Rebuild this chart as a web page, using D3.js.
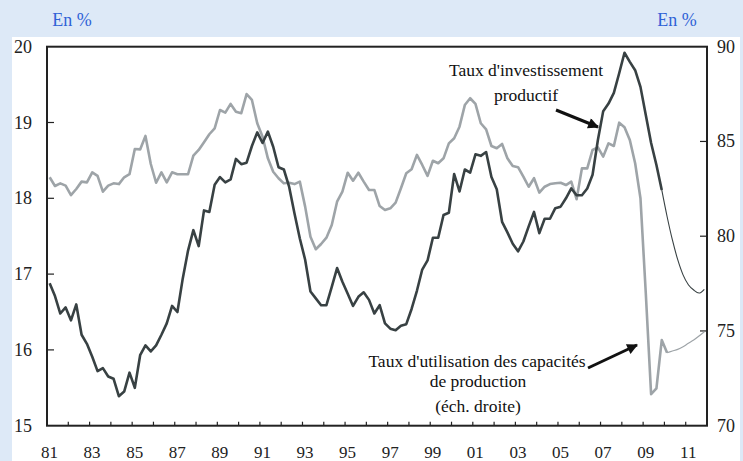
<!DOCTYPE html>
<html>
<head>
<meta charset="utf-8">
<script src="https://cdn.jsdelivr.net/npm/d3@7"></script>
<style>
  body { margin: 0; background: #dde9f7; }
</style>
</head>
<body>
<div id="chart"></div>
<script>
// quarterly, 1981Q1 -> 2011Q4
const startYear = 1981
const investRate = [
  16.88, 16.71, 16.48, 16.56, 16.39, 16.60, 16.20, 16.08, 15.91, 15.72, 15.76, 15.65, 15.62, 15.39, 15.45, 15.70,
  15.50, 15.93, 16.06, 15.98, 16.06, 16.20, 16.35, 16.58, 16.50, 16.94, 17.31, 17.58, 17.37, 17.84, 17.82,
  18.18, 18.28, 18.21, 18.25, 18.52, 18.45, 18.47, 18.69, 18.87, 18.73, 18.88, 18.68, 18.41, 18.38, 18.15, 17.80,
  17.47, 17.19, 16.77, 16.68, 16.59, 16.59, 16.83, 17.08, 16.90, 16.74, 16.58, 16.70, 16.76, 16.66, 16.48,
  16.59, 16.35, 16.28, 16.26, 16.32, 16.34, 16.54, 16.78, 17.06, 17.18, 17.48, 17.48, 17.78, 17.81, 18.32, 18.09,
  18.38, 18.34, 18.58, 18.56, 18.61, 18.28, 18.12, 17.69, 17.55, 17.40, 17.30, 17.43, 17.63, 17.82, 17.54,
  17.73, 17.73, 17.87, 17.89, 18.00, 18.13, 18.04, 18.04, 18.13, 18.31, 18.77, 19.15, 19.25, 19.39, 19.65, 19.92,
  19.80, 19.69, 19.47, 19.10, 18.73, 18.44, 18.11,
  17.76, 17.45, 17.19, 16.99, 16.86, 16.79, 16.75, 16.80
]
const capacityUse = [
  83.11, 82.65, 82.79, 82.67, 82.17, 82.49, 82.88, 82.84, 83.37, 83.18, 82.35, 82.67, 82.79, 82.75, 83.11, 83.27,
  84.60, 84.58, 85.29, 83.81, 82.82, 83.37, 82.84, 83.37, 83.27, 83.27, 83.27, 84.25, 84.55, 84.96, 85.38,
  85.69, 86.66, 86.52, 86.98, 86.57, 86.49, 87.50, 87.19, 85.96, 85.25, 84.11, 83.40, 83.06, 82.79, 82.82, 82.75,
  82.88, 81.56, 79.97, 79.31, 79.59, 79.92, 80.59, 81.82, 82.35, 83.35, 82.93, 83.35, 82.88, 82.44, 82.44,
  81.59, 81.38, 81.47, 81.77, 82.53, 83.32, 83.53, 84.29, 83.76, 83.18, 83.98, 83.85, 84.11, 84.90, 85.17, 85.78,
  86.92, 87.28, 86.98, 85.96, 85.64, 84.76, 84.64, 84.87, 84.11, 83.70, 83.64, 83.14, 82.61, 83.06, 82.30,
  82.61, 82.75, 82.79, 82.82, 82.70, 82.88, 81.95, 83.58, 83.58, 84.55, 84.69, 84.20, 84.90, 84.76, 85.99, 85.75,
  85.08, 83.85, 82.00, 76.99, 71.66, 71.97, 74.52, 73.85,
  73.94, 74.03, 74.17, 74.35, 74.52, 74.73, 74.96
]
// number of observed quarters (the rest is drawn thin, forecast)
const investObserved = 116
const capacityObserved = 117

const leftTicks = [15, 16, 17, 18, 19, 20]
const rightTicks = [70, 75, 80, 85, 90]
const yearLabels = d3.range(1981, 2012, 2)

const width = 743, height = 461
const font = 'Liberation Serif'

const svg = d3.select('#chart').append('svg')
  .attr('width', width)
  .attr('height', height)
  .style('display', 'block')

svg.append('rect')
  .attr('x', 12).attr('y', 37)
  .attr('width', 728).attr('height', 424)
  .attr('fill', '#ffffff')

const x = d3.scaleLinear().domain([1981, 2012]).range([47, 707])
const yL = d3.scaleLinear().domain([15, 20]).range([425.7, 46.7])
const yR = d3.scaleLinear().domain([70, 90]).range([425.7, 46.7])

const qt = i => startYear + (i + 0.5) / 4

// ticks inside the frame
const g = svg.append('g')
g.selectAll('.tl').data(leftTicks.slice(1, -1)).enter().append('line')
  .attr('x1', x.range()[0]).attr('x2', x.range()[0] + 7)
  .attr('y1', d => yL(d)).attr('y2', d => yL(d))
  .attr('stroke', '#222').attr('stroke-width', 1.2)
g.selectAll('.tr').data(rightTicks.slice(1, -1)).enter().append('line')
  .attr('x1', x.range()[1]).attr('x2', x.range()[1] - 7)
  .attr('y1', d => yR(d)).attr('y2', d => yR(d))
  .attr('stroke', '#222').attr('stroke-width', 1.2)
g.selectAll('.tb').data(d3.range(1982, 2012)).enter().append('line')
  .attr('x1', d => x(d)).attr('x2', d => x(d))
  .attr('y1', yL(15)).attr('y2', yL(15) - 4)
  .attr('stroke', '#222').attr('stroke-width', 1.2)

// labels
svg.selectAll('.ll').data(leftTicks).enter().append('text')
  .attr('x', 32).attr('y', d => yL(d) + 6)
  .attr('text-anchor', 'end')
  .attr('font-family', font).attr('font-size', 18).attr('fill', '#222')
  .text(d => d)
svg.selectAll('.rl').data(rightTicks).enter().append('text')
  .attr('x', 717).attr('y', d => yR(d) + 6)
  .attr('font-family', font).attr('font-size', 18).attr('fill', '#222')
  .text(d => d)
svg.selectAll('.bl').data(yearLabels).enter().append('text')
  .attr('x', d => x(d) + 2.5).attr('y', 458)
  .attr('text-anchor', 'middle')
  .attr('font-family', font).attr('font-size', 17).attr('fill', '#222')
  .text(d => String(d).slice(2))

svg.selectAll('.unit').data([72, 677]).enter().append('text')
  .attr('x', d => d).attr('y', 26).attr('text-anchor', 'middle')
  .attr('font-family', font).attr('font-size', 18).attr('fill', '#2f62d6')
  .text('En %')

// lines
const lineL = d3.line().x(d => x(qt(d[0]))).y(d => yL(d[1]))
const lineR = d3.line().x(d => x(qt(d[0]))).y(d => yR(d[1]))
const inv = investRate.map((v, i) => [i, v])
const cap = capacityUse.map((v, i) => [i, v])

svg.append('path').datum(cap.slice(0, capacityObserved))
  .attr('d', lineR).attr('fill', 'none')
  .attr('stroke', '#9ea4a8').attr('stroke-width', 2.6).attr('stroke-linejoin', 'round')
svg.append('path').datum(cap.slice(capacityObserved - 1))
  .attr('d', lineR.curve(d3.curveMonotoneX)).attr('fill', 'none')
  .attr('stroke', '#9ea4a8').attr('stroke-width', 1.2)
svg.append('path').datum(inv.slice(0, investObserved))
  .attr('d', lineL).attr('fill', 'none')
  .attr('stroke', '#384143').attr('stroke-width', 2.6).attr('stroke-linejoin', 'round')
svg.append('path').datum(inv.slice(investObserved - 1))
  .attr('d', lineL.curve(d3.curveMonotoneX)).attr('fill', 'none')
  .attr('stroke', '#384143').attr('stroke-width', 1.1)

// frame
svg.append('rect')
  .attr('x', x.range()[0]).attr('y', yL(20))
  .attr('width', x.range()[1] - x.range()[0]).attr('height', yL(15) - yL(20))
  .attr('fill', 'none').attr('stroke', '#222').attr('stroke-width', 2)

// annotations
const notes = [
  { t: "Taux d'investissement", x: 526, y: 76 },
  { t: 'productif', x: 526, y: 101 },
  { t: "Taux d'utilisation des capacités", x: 477, y: 367 },
  { t: 'de production', x: 478, y: 387 },
  { t: '(éch. droite)', x: 478, y: 412 }
]
svg.selectAll('.note').data(notes).enter().append('text')
  .attr('x', d => d.x).attr('y', d => d.y)
  .attr('text-anchor', 'middle')
  .attr('font-family', font).attr('font-size', 17.5).attr('fill', '#111')
  .text(d => d.t)

svg.append('defs').append('marker')
  .attr('id', 'arr').attr('viewBox', '0 0 10 10')
  .attr('refX', 9).attr('refY', 5)
  .attr('markerWidth', 4.2).attr('markerHeight', 3.6)
  .attr('orient', 'auto')
  .append('path').attr('d', 'M0,0L10,5L0,10Z').attr('fill', '#111')

const arrows = [
  [556, 110, 598, 127],
  [588, 368, 637, 345]
]
svg.selectAll('.arrow').data(arrows).enter().append('line')
  .attr('x1', d => d[0]).attr('y1', d => d[1])
  .attr('x2', d => d[2]).attr('y2', d => d[3])
  .attr('stroke', '#111').attr('stroke-width', 3)
  .attr('marker-end', 'url(#arr)')
</script>
</body>
</html>
